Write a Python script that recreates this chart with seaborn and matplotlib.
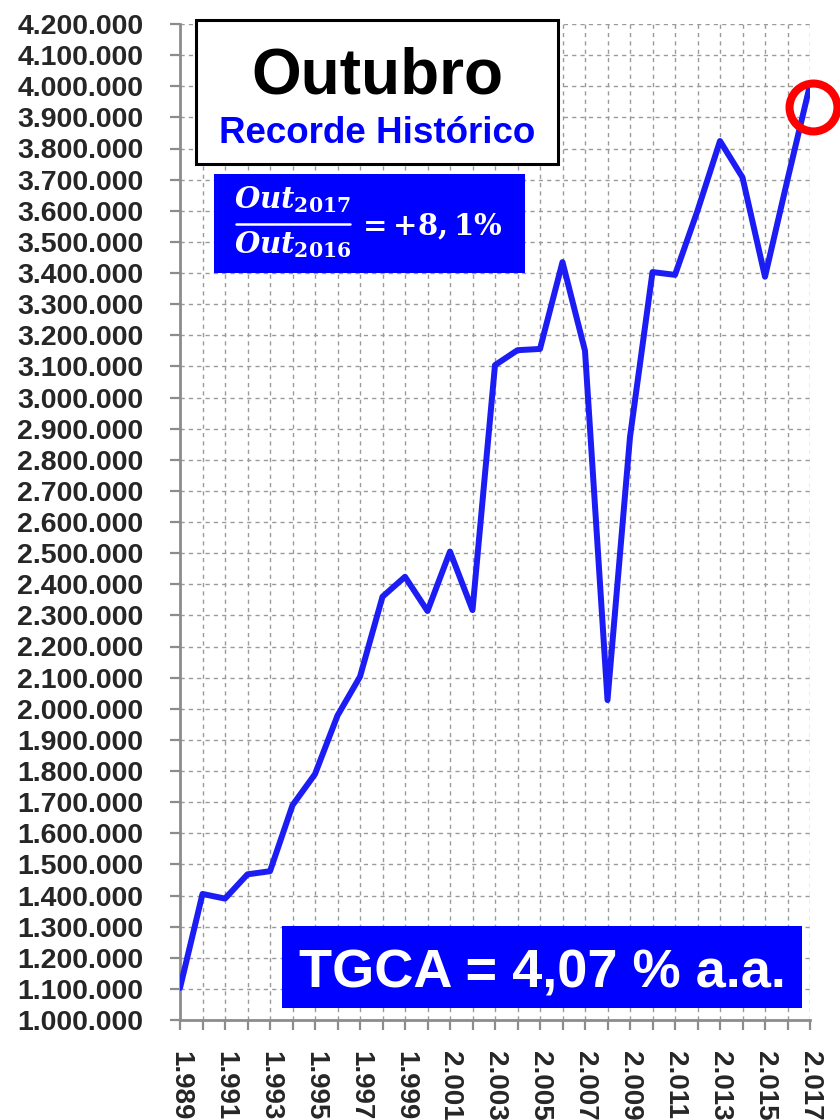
import matplotlib
matplotlib.use("Agg")
import matplotlib.pyplot as plt
import matplotlib.transforms as mtransforms
from matplotlib.patches import Rectangle
from matplotlib.lines import Line2D
import seaborn as sns

# Outubro, série anual 1989-2017
years = list(range(1989, 2018))
values = [1103000, 1405000, 1390000, 1468000, 1478000, 1690000, 1790000,
          1978000, 2103000, 2360000, 2424000, 2314000, 2505000, 2317000,
          3104000, 3152000, 3156000, 3435000, 3150000, 2028000, 2873000,
          3403000, 3394000, 3600000, 3824000, 3707000, 3388000, 3700000,
          4004000]
y_ticks = list(range(1000000, 4200001, 100000))

title = "Outubro"
subtitle = "Recorde Histórico"
ratio_num = r"$Out_{2017}$"
ratio_den = r"$Out_{2016}$"
ratio_val = r"$=+8,1\%$"
tgca_text = "TGCA = 4,07 % a.a."

LINE_BLUE = "#1C1CF5"
BOX_BLUE = "#0000FF"
GRID = "#9A9A9A"
AXIS = "#8C8C8C"

sns.set_style("white")
plt.rcParams.update({
    "font.family": ["Liberation Sans", "DejaVu Sans"],
    "mathtext.fontset": "custom",
    "mathtext.rm": "DejaVu Serif:bold",
    "mathtext.it": "DejaVu Serif:italic:bold",
    "mathtext.bf": "DejaVu Serif:bold",
})


def fmt_pt(v):
    return f"{v:,}".replace(",", ".")


W, H = 840, 1120
fig = plt.figure(figsize=(W / 100, H / 100), dpi=100)
ax = fig.add_axes([180 / W, 1 - 1020 / H, 630 / W, 996 / H])

sns.lineplot(x=years, y=values, ax=ax, color=LINE_BLUE, linewidth=4.3, zorder=3)

ax.set_xlim(years[0], years[-1])
ax.set_ylim(y_ticks[0], y_ticks[-1])

# eixo x: rótulos a cada 2 anos, marcas e grade todo ano
ax.set_xticks(years[::2])
ax.set_xticklabels([fmt_pt(y) for y in years[::2]], rotation=-90,
                   fontsize=20, fontweight="bold", va="top", ha="center")
ax.set_xticks(years[1::2], minor=True)
ax.set_yticks(y_ticks)
ax.set_yticklabels([fmt_pt(v) for v in y_ticks], fontsize=20.5, fontweight="bold")

ax.tick_params(axis="x", which="both", direction="out", length=7.2, width=1.6,
               color=AXIS, pad=15, bottom=True)
ax.tick_params(axis="y", which="major", direction="out", length=7.2, width=1.6,
               color=AXIS, pad=19, left=True)

ax.grid(which="both", axis="x", color=GRID, linestyle=(0, (3, 3)), linewidth=1)
ax.grid(which="major", axis="y", color=GRID, linestyle=(0, (3, 3)), linewidth=1)
ax.set_axisbelow(True)

for side in ("top", "right"):
    ax.spines[side].set_visible(False)
for side in ("left", "bottom"):
    ax.spines[side].set_color(AXIS)
    ax.spines[side].set_linewidth(2)
ax.set_xlabel("")
ax.set_ylabel("")

# círculo vermelho no último ponto (recorde)
circ_tr = mtransforms.offset_copy(ax.transData, fig=fig, x=3, y=-22, units="dots")
ax.plot([years[-1]], [values[-1]], marker="o", markersize=34.5, markerfacecolor="none",
        markeredgecolor="#FF0000", markeredgewidth=5.8, transform=circ_tr,
        clip_on=False, zorder=5)

# caixa do título
fig.add_artist(Rectangle((196 / W, 1 - 164 / H), 362 / W, 144 / H,
                         transform=fig.transFigure, facecolor="white",
                         edgecolor="black", linewidth=2.2))
fig.text(377 / W, 1 - 94 / H, title, ha="center", va="baseline",
         fontsize=46, fontweight="bold", color="black")
fig.text(377 / W, 1 - 143 / H, subtitle, ha="center", va="baseline",
         fontsize=26.5, fontweight="bold", color=BOX_BLUE)

# caixa da razão 2017/2016 (fração montada à mão)
fig.add_artist(Rectangle((214 / W, 1 - 273 / H), 311 / W, 99 / H,
                         transform=fig.transFigure, facecolor=BOX_BLUE,
                         edgecolor="none"))
fig.text(293 / W, 1 - 208 / H, ratio_num, ha="center", va="baseline",
         fontsize=21, color="white")
fig.add_artist(Line2D([236 / W, 350 / W], [1 - 224 / H, 1 - 224 / H],
                      transform=fig.transFigure, color="white", linewidth=1.8))
fig.text(293 / W, 1 - 253 / H, ratio_den, ha="center", va="baseline",
         fontsize=21, color="white")
fig.text(356 / W, 1 - 235 / H, ratio_val, ha="left", va="baseline",
         fontsize=21, color="white")

# caixa TGCA
fig.add_artist(Rectangle((282 / W, 1 - 1008 / H), 520 / W, 82 / H,
                         transform=fig.transFigure, facecolor=BOX_BLUE,
                         edgecolor="none"))
fig.text(542 / W, 1 - 988 / H, tgca_text, ha="center", va="baseline",
         fontsize=39, fontweight="bold", color="white")

fig.savefig("out.png", dpi=100)
